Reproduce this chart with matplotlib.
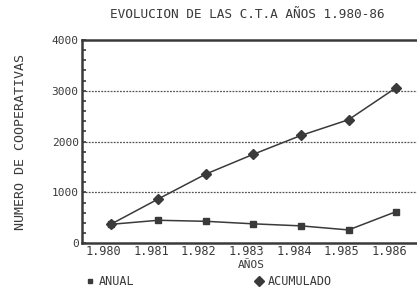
import matplotlib
matplotlib.use("Agg")
import matplotlib.pyplot as plt
import matplotlib.transforms as mtransforms
from matplotlib.lines import Line2D
from matplotlib.ticker import MultipleLocator

# values
years = [1980, 1981, 1982, 1983, 1984, 1985, 1986]
year_labels = ['1.980', '1.981', '1.982', '1.983', '1.984', '1.985', '1.986']
anual = [370, 450, 430, 380, 340, 260, 620]
acumulado = [370, 870, 1360, 1750, 2120, 2430, 3060]

ink = '#3a3a3a'
plt.rcParams['font.family'] = ['DejaVu Sans Mono']

fig = plt.figure(figsize=(4.17, 2.94), dpi=100)
ax = fig.add_axes([0.197, 0.173, 0.803, 0.691])

ax.plot(years, anual, color=ink, lw=1.1, marker='s', ms=4.5)
ax.plot(years, acumulado, color=ink, lw=1.1, marker='D', ms=5.5)

ax.set_xlim(1979.4, 1986.44)
ax.set_ylim(0, 4000)
ax.set_xticks(years)
ax.set_xticklabels(year_labels, fontsize=8.6, color=ink)
ax.tick_params(axis='x', length=0, pad=1.5)
# the year labels sit a little left of their points in the original
shift = mtransforms.ScaledTranslation(-7 / 100, 0, fig.dpi_scale_trans)
for lbl in ax.get_xticklabels():
    lbl.set_transform(lbl.get_transform() + shift)

ax.yaxis.set_major_locator(MultipleLocator(1000))
ax.yaxis.set_minor_locator(MultipleLocator(200))
ax.tick_params(axis='y', which='both', direction='in', length=3, width=1.2,
               color=ink, labelsize=8, labelcolor=ink, pad=2.5)

for v in [1000, 2000, 3000]:
    ax.axhline(v, color='#555555', lw=0.9, ls=(0, (1.5, 1)), zorder=0)

for side in ['left', 'bottom', 'top']:
    ax.spines[side].set_color(ink)
    ax.spines[side].set_linewidth(1.8)
ax.spines['right'].set_visible(False)

fig.text(0.594, 0.949, 'EVOLUCION DE LAS C.T.A AÑOS 1.980-86', ha='center',
         va='center', fontsize=9.2, color=ink)
fig.text(0.602, 0.099, 'AÑOS', ha='center', va='center', fontsize=8,
         color=ink)
fig.text(0.048, 0.517, 'NUMERO DE COOPERATIVAS', rotation=90, ha='center',
         va='center', fontsize=9.6, color=ink)

handles = [Line2D([], [], color=ink, marker='s', ls='none', ms=3.5),
           Line2D([], [], color=ink, marker='D', ls='none', ms=5)]
fig.legend(handles, ['ANUAL', 'ACUMULADO'], ncol=2, loc='lower left',
           bbox_to_anchor=(0.175, -0.015), frameon=False, fontsize=8.5,
           handlelength=1, handletextpad=0.3, columnspacing=10,
           labelcolor=ink)

fig.savefig('out.png', dpi=100)
